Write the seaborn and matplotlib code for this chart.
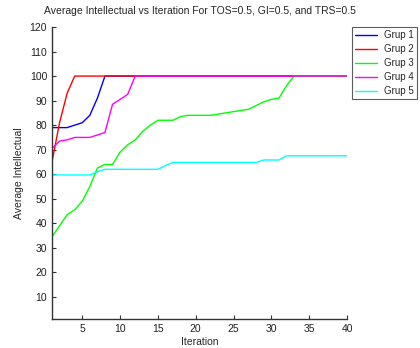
import numpy as np
import pandas as pd
import seaborn as sns
import matplotlib
matplotlib.use("Agg")
import matplotlib.pyplot as plt

iterations = list(range(1, 41))

grup1 = [79, 79, 79, 80, 81, 84, 91] + [100] * 33
grup2 = [65, 81, 93] + [100] * 37
grup3 = [34.5, 39, 43.5, 45.5, 49, 55, 62.5, 64, 64, 69,
         72, 74, 77.5, 80, 82, 82, 82, 83.5, 84, 84,
         84, 84, 84.5, 85, 85.5, 86, 86.5, 88, 89.5, 90.5,
         91, 96] + [100] * 8
grup4 = [70.5, 73.5, 74, 75, 75, 75, 76, 77, 88.5, 90.5, 92.5] + [100] * 29
grup5 = [59.7] * 6 + [61, 62, 62, 62, 62, 62, 62, 62, 62, 63.5] + [64.8] * 12 + [65.8] * 3 + [67.5] * 9

series_names = ["Grup 1", "Grup 2", "Grup 3", "Grup 4", "Grup 5"]
series_values = [grup1, grup2, grup3, grup4, grup5]
colors = ["#0000ff", "#ff0000", "#00ff00", "#ff00ff", "#00ffff"]

rows = []
for name, vals in zip(series_names, series_values):
    for it, v in zip(iterations, vals):
        rows.append({"Iteration": it, "Value": v, "Group": name})
df = pd.DataFrame(rows)

sns.set_style("ticks")
plt.rcParams["font.family"] = ["Liberation Sans", "DejaVu Sans"]

fig = plt.figure(figsize=(4.2, 3.48), dpi=100)
ax = fig.add_axes([52 / 420, 29 / 348, 295 / 420, 292 / 348])

sns.lineplot(data=df, x="Iteration", y="Value", hue="Group",
             palette=dict(zip(series_names, colors)), linewidth=1.0,
             ax=ax, legend=True)

ax.set_xlim(1, 40)
ax.set_ylim(1, 120)
ax.set_xticks([5, 10, 15, 20, 25, 30, 35, 40])
ax.set_yticks(list(range(10, 121, 10)))
ax.tick_params(direction="in", labelsize=7.5, length=3, width=0.8, colors="#333333")
for lbl in ax.get_xticklabels() + ax.get_yticklabels():
    lbl.set_color("#222222")
sns.despine(ax=ax)
for s in ["left", "bottom"]:
    ax.spines[s].set_linewidth(1.0)
    ax.spines[s].set_color("#333333")

ax.set_xlabel("Iteration", fontsize=7.5, labelpad=2)
ax.set_ylabel("Average Intellectual", fontsize=7.5, labelpad=4)
ax.set_title("Average Intellectual vs Iteration For TOS=0.5, GI=0.5, and TRS=0.5",
             fontsize=7.5, pad=9)

handles, labels = ax.get_legend_handles_labels()
leg = ax.legend(handles, labels, loc="upper left",
                bbox_to_anchor=(352 / 420, 1 - 27 / 348),
                bbox_transform=fig.transFigure, fontsize=7, frameon=True,
                fancybox=False, borderpad=0.35, labelspacing=0.4,
                handlelength=2.2, handletextpad=0.7, borderaxespad=0)
leg.get_frame().set_edgecolor("#333333")
leg.get_frame().set_linewidth(0.8)

fig.savefig("out.png", dpi=100)
